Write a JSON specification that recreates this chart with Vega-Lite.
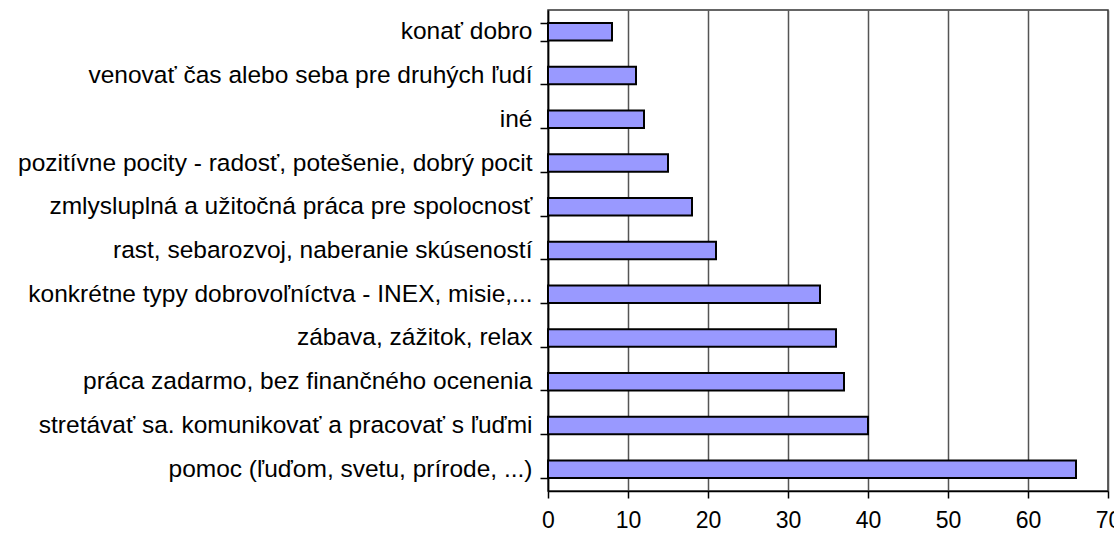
{
  "$schema": "https://vega.github.io/schema/vega-lite/v6.json",
  "autosize": "none",
  "width": 560,
  "height": 481,
  "padding": {"left": 548, "top": 10, "right": 6, "bottom": 42},
  "background": "white",
  "data": {
    "values": [
      {"kategoria": "konať dobro", "pocet": 8},
      {"kategoria": "venovať čas alebo seba pre druhých ľudí", "pocet": 11},
      {"kategoria": "iné", "pocet": 12},
      {"kategoria": "pozitívne pocity - radosť, potešenie, dobrý pocit", "pocet": 15},
      {"kategoria": "zmlysluplná a užitočná práca pre spolocnosť", "pocet": 18},
      {"kategoria": "rast, sebarozvoj, naberanie skúseností", "pocet": 21},
      {"kategoria": "konkrétne typy dobrovoľníctva - INEX, misie,...", "pocet": 34},
      {"kategoria": "zábava, zážitok, relax", "pocet": 36},
      {"kategoria": "práca zadarmo, bez finančného ocenenia", "pocet": 37},
      {"kategoria": "stretávať sa. komunikovať a pracovať s ľuďmi", "pocet": 40},
      {"kategoria": "pomoc (ľuďom, svetu, prírode, ...)", "pocet": 66}
    ]
  },
  "config": {
    "view": {"stroke": "#333333", "strokeWidth": 1.5},
    "font": "Liberation Sans",
    "axis": {"labelFont": "Liberation Sans", "labelColor": "black"}
  },
  "mark": {"type": "bar", "color": "#9999FF", "stroke": "black", "strokeWidth": 2},
  "encoding": {
    "y": {
      "field": "kategoria",
      "type": "nominal",
      "sort": {"field": "pocet", "order": "ascending"},
      "scale": {"paddingInner": 0.6, "paddingOuter": 0.3},
      "axis": {
        "title": null,
        "labelFontSize": 24.5,
        "labelPadding": 8,
        "labelLimit": 600,
        "tickBand": "extent",
        "tickSize": 8,
        "tickColor": "black",
        "tickWidth": 1.5,
        "domainColor": "black",
        "domainWidth": 1.5,
        "grid": false
      }
    },
    "x": {
      "field": "pocet",
      "type": "quantitative",
      "scale": {"domain": [0, 70], "nice": false},
      "axis": {
        "title": null,
        "values": [0, 10, 20, 30, 40, 50, 60, 70],
        "labelFontSize": 23,
        "labelPadding": 11,
        "tickSize": 7,
        "tickColor": "black",
        "tickWidth": 1.5,
        "domainColor": "black",
        "domainWidth": 1.5,
        "grid": true,
        "gridColor": "#555555",
        "gridWidth": 1.5,
        "labelFlush": false,
        "labelOverlap": false
      }
    }
  }
}
